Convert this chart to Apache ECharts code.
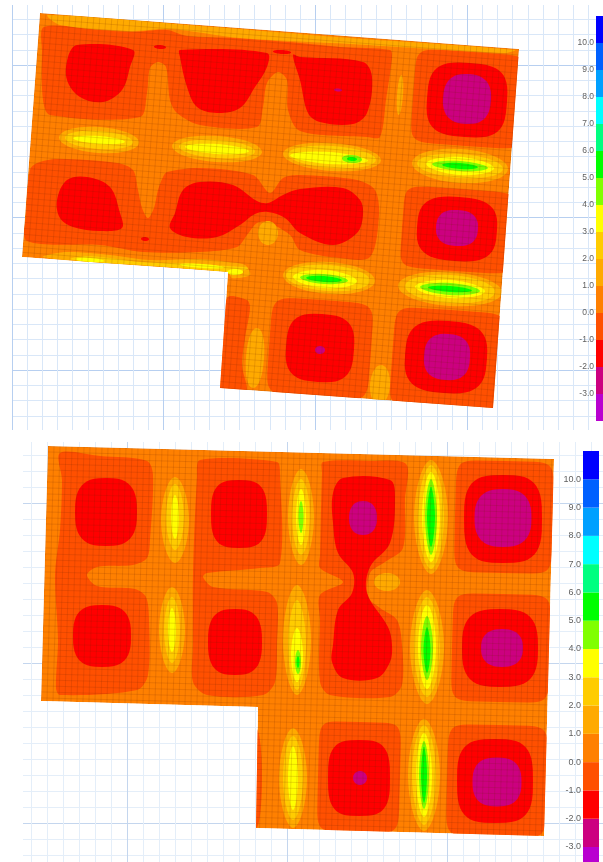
<!DOCTYPE html>
<html>
<head>
<meta charset="utf-8">
<style>
html,body{margin:0;padding:0;background:#fff;overflow:hidden}
#c{width:603px;height:862px;filter:blur(0.5px)}
</style>
<script src="https://cdn.jsdelivr.net/npm/echarts@6/dist/echarts.min.js"></script>
</head>
<body>
<div id="c"></div>
<script>
// Contour level scale: the lower bound of each band and its colour
const levels = [-4,-3,-2,-1,0,1,2,3,4,5,6,7,8,9,10];
const levelColors = ['#b900d0','#cc0080','#ff0000','#ff5000','#ff8000','#ffaa00','#ffcc00','#ffff00','#80ff00','#00ff00','#00ff80','#00ffff','#00a0ff','#0060ff','#0000ff'];

// Contours in plate units. A contour is an outline [[x,y],...] or a closed
// loop [centre x, centre y, half width, half height, tilt, squareness].
const topOutline = [[28,9],[507,45],[481,404],[208,384],[216,268],[10,253]];
const topM0 = [
 [[32,23],[88,26],[121,28],[155,26],[175,32],[221,34],[288,39],[328,43],[378,46],[380,53],[374,96],[368,133],[355,133],[288,127],[276,106],[275,76],[266,68],[255,79],[251,103],[245,123],[188,121],[165,109],[158,96],[154,63],[146,58],[138,64],[135,89],[128,113],[38,111],[31,96],[30,46]],
 [[18,166],[25,159],[45,155],[105,159],[121,166],[126,186],[130,204],[136,214],[142,204],[146,186],[151,173],[155,168],[188,164],[241,171],[258,189],[271,174],[288,171],[345,176],[363,186],[367,211],[358,253],[328,254],[288,246],[278,231],[255,218],[245,219],[235,231],[225,243],[188,248],[131,248],[88,241],[15,237],[14,211]],
 [457,95,56,47,4,8],
 [446,226,56,41,4,8],
 [[215,294],[235,296],[238,304],[233,334],[230,361],[234,388],[206,386]],
 [308,345,51,49,4,7],
 [436,356,56,50,4,8]
];
const topM1 = [
 [[65,41],[121,46],[118,63],[110,86],[91,98],[68,93],[55,76],[56,53]],
 [[168,46],[255,49],[255,63],[243,83],[228,104],[205,109],[185,103],[175,83],[168,53]],
 [[281,51],[288,53],[351,58],[360,73],[355,109],[341,120],[308,118],[296,109],[288,76]],
 [148,43,6,2,4,2],[270,48,9,2,4,2],[133,235,4,2,4,2],
 [455,96,40,37,4,3.2],
 [[45,196],[55,176],[75,173],[98,183],[108,209],[110,224],[88,227],[61,223],[48,214]],
 [[158,224],[163,209],[171,186],[188,178],[221,181],[245,197],[256,199],[271,191],[288,185],[331,184],[348,196],[351,211],[345,229],[321,241],[288,229],[273,214],[256,208],[243,210],[228,221],[205,233],[175,233]],
 [445,225,40,32,4,3],[308,344,34,34,4,3],[434,353,41,36,4,3]
];
const topM2 = [[455,95,24,25,4,2.5],[445,224,21,18,4,2.5],[435,353,23,23,4,2.6],[308,346,5,4,0,2],[326,86,4,1.5,4,2]];
const topP1 = [
 [[36,11],[188,22],[338,34],[503,46],[493,49],[338,40],[228,34],[158,25],[118,27],[48,21]],
 [[31,253],[54,248],[98,251],[138,256],[188,255],[216,258],[233,261],[238,271],[220,274],[216,268],[88,259]],
 [388,91,3,20,4,2],[368,381,10,20,4,2],[256,229,10,12,0,2],
 [243,354,9,30,4,2.2],
 [87,136,40,13,4,2],[205,145,45,13,4,2],[320,153,49,14,4,2],[448,162,48,17,4,2],[317,274,46,16,4,2],[438,285,52,17,4,2]
];
const topP2 = [
 [[58,255],[73,252],[98,254],[128,258],[188,260],[216,262],[236,264],[224,269],[216,268],[128,261],[78,258]],
 [87,136,34,9,4,2],[205,145,38,9,4,2],[320,153,44,11,4,2],[448,162,43,12,4,2],[316,274,42,13,4,2],[438,285,45,14,4,2]
];
const topP3 = [[87,136,26,4,4,1.8],[205,145,32,5,4,1.8],[317,154,39,6,4,1.8],[448,162,34,9,4,1.8],[313,275,32,9,4,1.8],[438,285,35,9,4,1.8],[78,256,14,2,4,2],[223,268,8,3,0,2],[190,262,22,2,4,2]];
const topP4 = [[340,155,10,4,4,2],[448,162,28,5,4,1.8],[312,275,24,5,4,1.8],[438,285,30,6,4,1.8]];
const topP5 = [[340,155,5,2,4,2],[448,162,18,3,4,1.8],[312,275,18,3,4,1.8],[438,285,22,3,4,1.8]];

const botOutline = [[33,7],[539,20],[529,397],[241,389],[243,268],[26,262]];
const botM0 = [
 [[45,14],[85,17],[132,22],[138,36],[135,101],[132,119],[118,126],[82,128],[72,136],[82,147],[120,150],[131,158],[134,181],[133,236],[122,251],[45,256],[41,249],[43,201],[40,136],[45,91],[47,41]],
 [[185,21],[262,23],[265,34],[265,124],[245,129],[192,134],[188,138],[198,148],[252,153],[262,164],[262,204],[260,243],[248,256],[192,256],[178,243],[178,206],[178,134],[182,38]],
 [[308,23],[355,22],[391,25],[390,61],[388,109],[370,123],[355,134],[353,158],[365,169],[382,181],[387,206],[387,246],[375,258],[315,256],[305,243],[305,181],[305,156],[328,143],[305,129],[305,116],[307,34]],
 [489,78,49,56,1.4,8],
 [486,209,49,54,1.4,8],
 [482,342,50,56,1.4,8],
 [344,338,41,55,1.4,8],
 [241,339,6,50,0,2]
];
const botM1 = [
 [91,73,31,34,0,2.8],
 [87,197,29,31,0,2.8],
 [224,75,28,34,0,3],
 [220,203,27,33,0,2.8],
 [[328,39],[375,41],[380,58],[375,104],[355,128],[352,154],[373,188],[377,206],[375,223],[362,239],[328,239],[317,223],[318,206],[323,171],[337,154],[338,134],[323,114],[318,84],[318,54]],
 [488,80,39,44,0,3.2],[485,209,38,39,0,3],[344,339,31,38,0,3.2],[480,342,38,42,0,3.2]
];
const botM2 = [[348,79,14,17,0,2.3],[488,79,28.5,29,0,2.6],[487,209,21,19,0,2.4],[345,339,7,7,0,2],[482,343,24.5,24.5,0,2.6]];
const botP1 = [[160,81,14,43,0,1.8],[157,191,13,43,0,1.8],[286,78,13,48,0,1.8],[282,201,14,55,0,1.8],[416,78,17,57,0,1.8],[412,208,17,57,0,1.8],[409,336,16,56,0,1.8],[278,339,14,50,0,1.8],[372,143,13,9,0,2]];
const botP2 = [[160,78,9,33,0,1.8],[157,191,8,33,0,1.8],[286,78,9,38,0,1.8],[282,206,9,45,0,1.8],[416,78,13,52,0,1.8],[412,208,13,50,0,1.8],[409,336,12,50,0,1.8],[278,339,10,42,0,1.8]];
const botP3 = [[160,78,4,22,0,1.8],[157,191,4,22,0,1.8],[286,78,5,28,0,1.8],[282,216,6,27,0,1.8],[416,78,9,45,0,1.8],[412,208,9,42,0,1.8],[409,336,8,42,0,1.8],[278,339,5,32,0,1.8]];
const botP4 = [[286,78,2.5,16,0,1.8],[283,223,3,12,0,1.8],[416,78,6,38,0,1.7],[412,209,6,32,0,1.7],[409,336,5,34,0,1.7]];
const botP5 = [[283,223,1.5,6,0,1.8],[416,78,4,30,0,1.6],[412,211,3.5,23,0,1.6],[409,336,3,28,0,1.6]];

function loopPoints(b){
  const [cx,cy,rx,ry,tilt,n]=b, t=tilt*Math.PI/180, pts=[];
  for(let i=0;i<48;i++){
    const a=i/48*2*Math.PI, c=Math.cos(a), s=Math.sin(a);
    const x=rx*Math.sign(c)*Math.pow(Math.abs(c),2/n), y=ry*Math.sign(s)*Math.pow(Math.abs(s),2/n);
    pts.push([cx+x*Math.cos(t)-y*Math.sin(t), cy+x*Math.sin(t)+y*Math.cos(t)]);
  }
  return pts;
}
function bandSeries(grid,outline,contours,level,smooth){
  return {
    type:'custom',coordinateSystem:'cartesian2d',xAxisIndex:grid,yAxisIndex:grid,silent:true,clip:false,
    data:contours.map((_,i)=>[i,level]),
    renderItem(params,api){
      const c=contours[params.dataIndex], isLoop=typeof c[0]==='number';
      const pts=(isLoop?loopPoints(c):c).map(p=>api.coord(p));
      return {type:'polygon',
        shape:{points:pts,smooth:isLoop?0:smooth},
        style:{fill:levelColors[levels.indexOf(level)]},
        clipPath:{type:'polygon',shape:{points:outline.map(p=>api.coord(p))}}};
    }
  };
}
function meshSeries(grid,outline,step){
  const [a,b,,,,f]=outline;
  const ux=b[0]-a[0],uy=b[1]-a[1],ul=Math.hypot(ux,uy),ex=[ux/ul,uy/ul];
  const vx=f[0]-a[0],vy=f[1]-a[1],vl=Math.hypot(vx,vy),ey=[vx/vl,vy/vl];
  return {
    type:'custom',coordinateSystem:'cartesian2d',xAxisIndex:grid,yAxisIndex:grid,silent:true,clip:false,
    data:[[0,0]],
    renderItem(params,api){
      const lines=[],N=110,add=(p,q)=>{const s=api.coord(p),e=api.coord(q);
        lines.push({type:'line',shape:{x1:s[0],y1:s[1],x2:e[0],y2:e[1]},style:{stroke:'rgba(110,40,0,0.22)',lineWidth:0.7}});};
      for(let k=-10;k<N;k++){
        const o=[a[0]+ex[0]*k*step,a[1]+ex[1]*k*step];
        add(o,[o[0]+ey[0]*520,o[1]+ey[1]*520]);
        const h=[a[0]+ey[0]*k*step,a[1]+ey[1]*k*step];
        add(h,[h[0]+ex[0]*620,h[1]+ex[1]*620]);
      }
      return {type:'group',children:lines,clipPath:{type:'polygon',shape:{points:outline.map(p=>api.coord(p))}}};
    }
  };
}
function plate(grid,outline,m0,m1,m2,p1,p2,p3,p4,p5,step){
  return [
    bandSeries(grid,outline,[outline],0,0),
    bandSeries(grid,outline,m0,-1,0.3),bandSeries(grid,outline,m1,-2,0.35),bandSeries(grid,outline,m2,-3,0.3),
    bandSeries(grid,outline,p1,1,0.3),bandSeries(grid,outline,p2,2,0.3),bandSeries(grid,outline,p3,3,0.3),
    bandSeries(grid,outline,p4,4,0.3),bandSeries(grid,outline,p5,5,0.3),
    meshSeries(grid,outline,step)
  ];
}
function cycle(n,dark,light,idx){const a=[];for(let i=0;i<n;i++)a.push(i===idx?dark:light);return a;}
function planAxis(type,max,interval,colors,extra){
  return Object.assign({type:'value',min:0,max,interval,axisLine:{show:false},axisTick:{show:false},axisLabel:{show:false},
    splitLine:{show:true,lineStyle:{color:colors,width:1}}},extra||{},{gridIndex:type});
}
function barSeries(axis){
  return {type:'custom',coordinateSystem:'cartesian2d',xAxisIndex:axis,yAxisIndex:axis,silent:true,clip:false,
    data:levels.map((l,i)=>[i,l]),
    renderItem(params,api){
      const i=params.dataIndex,p=api.coord([0,levels[i]+1]),q=api.coord([1,levels[i]]);
      return {type:'rect',shape:{x:p[0],y:p[1],width:q[0]-p[0],height:q[1]-p[1]},style:{fill:levelColors[i]}};
    }};
}
function barAxes(i,size,margin){
  return {
    x:{gridIndex:i,type:'value',min:0,max:1,show:false},
    y:{gridIndex:i,type:'value',min:-3,max:11,interval:1,position:'left',axisLine:{show:false},axisTick:{show:false},splitLine:{show:false},
      axisLabel:{show:true,margin,color:'#5f5f5f',fontSize:size,fontFamily:'Liberation Sans',showMinLabel:true,showMaxLabel:false,formatter:v=>v.toFixed(1)}}
  };
}
const b0=barAxes(2,8.5,2), b1=barAxes(3,9,2);
const white={fill:'#fff'};
const option={
  animation:false,backgroundColor:'#fff',
  graphic:[
    {type:'rect',z:50,silent:true,shape:{x:0,y:432,width:23,height:430},style:white},
    {type:'rect',z:50,silent:true,shape:{x:0,y:430,width:603,height:12},style:white},
    {type:'rect',z:50,silent:true,shape:{x:0,y:0,width:603,height:5},style:white}
  ],
  grid:[
    {left:12,top:4,width:591,height:426},
    {left:15,top:439,width:588,height:423},
    {left:596,top:16,width:7,height:378},
    {left:583,top:451,width:16,height:396}
  ],
  xAxis:[
    planAxis(0,591,15.17,cycle(10,'#b7cff0','#d9e7f8',0)),
    planAxis(1,588,16,cycle(10,'#c4d6ee','#e4eef9',7)),
    b0.x,b1.x
  ],
  yAxis:[
    planAxis(0,426,15.25,cycle(10,'#b7cff0','#d9e7f8',4),{inverse:true}),
    planAxis(1,423,16,cycle(10,'#c4d6ee','#e4eef9',4),{inverse:true}),
    b0.y,b1.y
  ],
  series:[
    ...plate(0,topOutline,topM0,topM1,topM2,topP1,topP2,topP3,topP4,topP5,6),
    ...plate(1,botOutline,botM0,botM1,botM2,botP1,botP2,botP3,botP4,botP5,6),
    barSeries(2),barSeries(3)
  ]
};
echarts.init(document.getElementById('c'),null,{renderer:'canvas'}).setOption(option);
</script>
</body>
</html>
